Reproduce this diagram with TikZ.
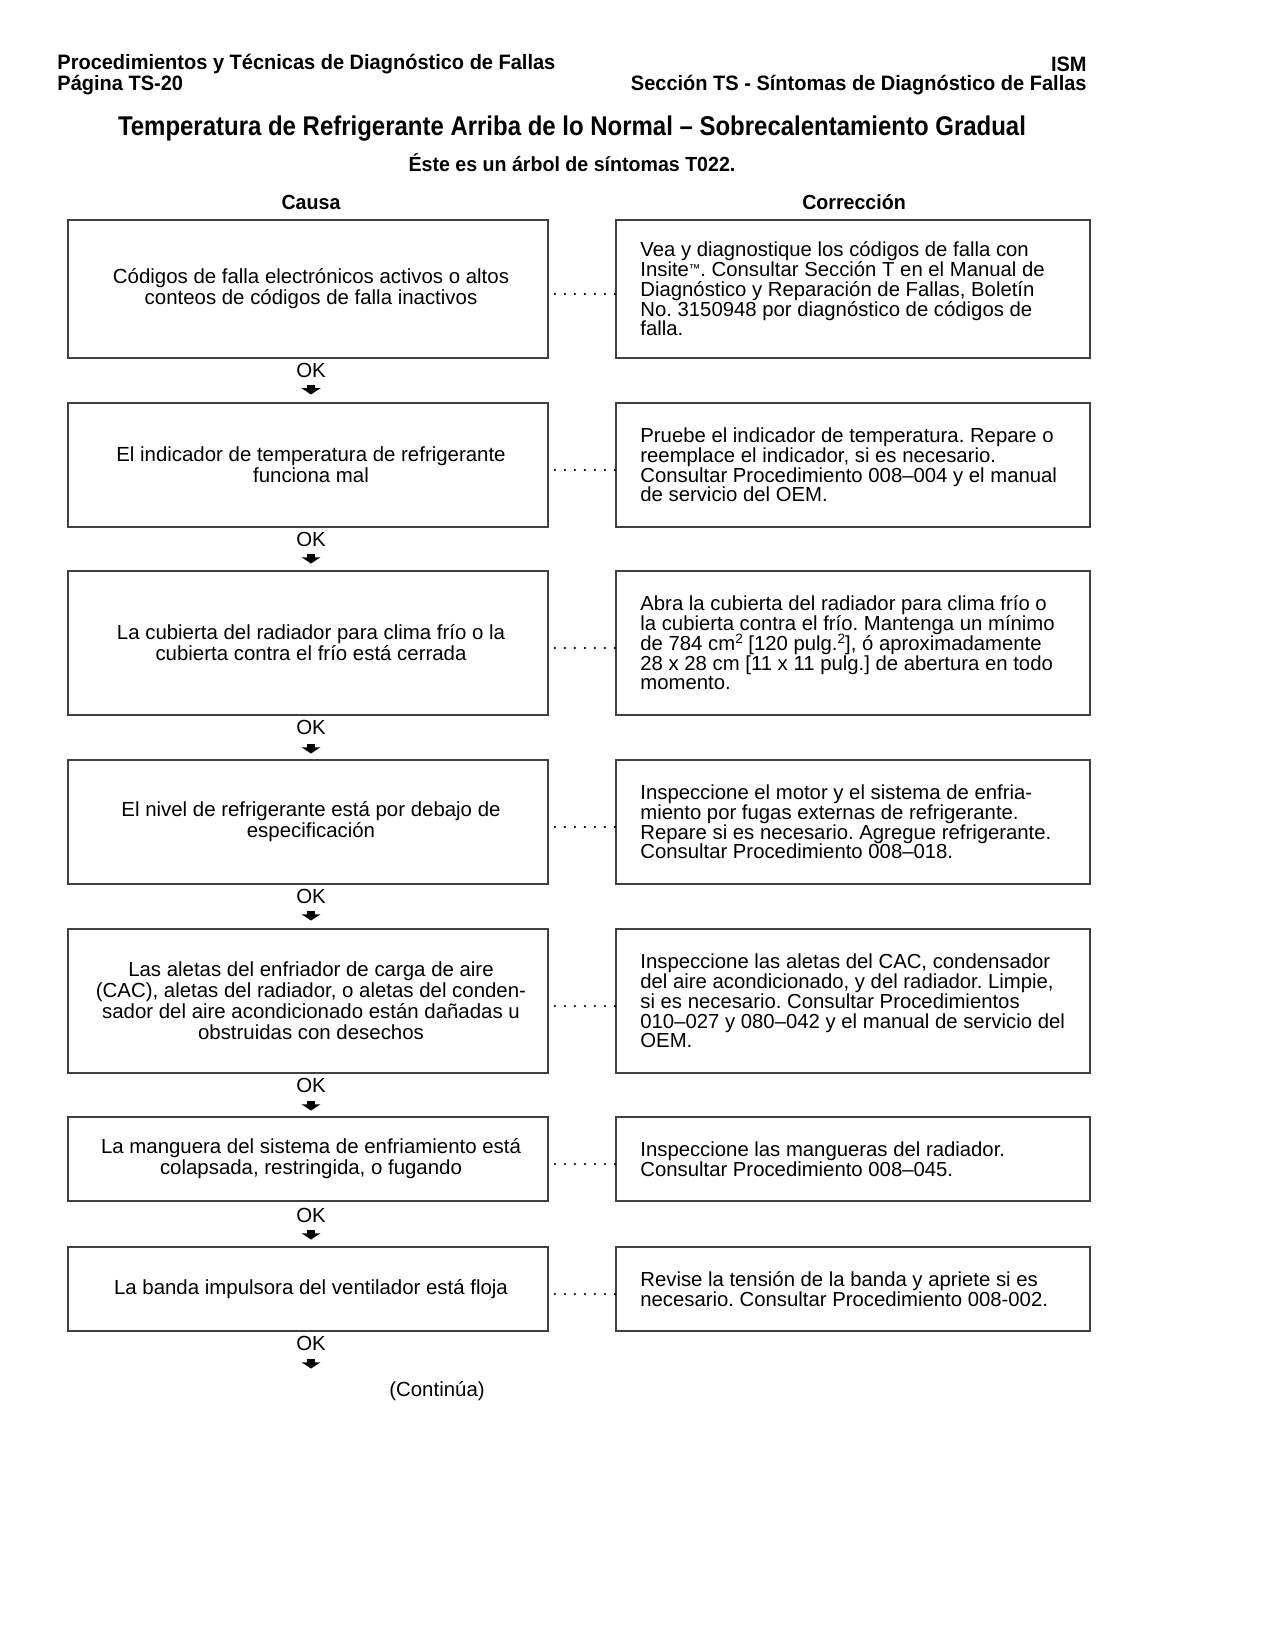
\documentclass[tikz,border=0pt]{standalone}
\usepackage{fontspec}
\setmainfont{Liberation Sans}
\newfontfamily\condb[FakeStretch=0.96]{Liberation Sans}
\newfontfamily\condt[FakeStretch=0.885]{Liberation Sans}
\usetikzlibrary{arrows.meta}
\lineskiplimit=-20pt
\frenchspacing
\newcommand\tmark{\raisebox{0.35ex}{\fontsize{5.5}{5.5}\selectfont\texttrademark}}
\newcommand\sqr{\smash{\raisebox{0.62ex}{\fontsize{6.5}{6.5}\selectfont 2}}}
\tikzset{
  causebox/.style={draw=black!75, line width=0.6pt, minimum width=230.4pt, inner sep=0pt},
  causetext/.style={align=center, font=\fontsize{9.8}{10.1}\selectfont, inner sep=0pt},
  fixbox/.style={draw=black!75, line width=0.6pt, minimum width=227.5pt, inner sep=0pt},
  fixtext/.style={anchor=west, align=left, font=\fontsize{9.75}{9.5}\selectfont, inner sep=0pt},
  dotline/.style={line width=1.1pt, dash pattern=on 0pt off 4.8pt, line cap=round, shorten <=3pt},
  oklabel/.style={font=\fontsize{9.8}{10}\selectfont, inner sep=0pt},
  okarrow/.style={line width=4pt, -{Triangle[width=9pt,length=3pt]}},
  head/.style={font=\condb\bfseries\fontsize{10}{12}\selectfont, inner sep=0pt},
}
\newcommand\pairrow[5]{%
  \node[causebox, minimum height={#3*0.48pt}] (c#1) at (308,#2) {};
  \node[causetext] (ct#1) at (311,#2) {#4};
  \node[fixbox, minimum height={#3*0.48pt}] (f#1) at (853,#2) {};
  \node[fixtext] (t#1) at ([xshift=11.8pt]f#1.west) {#5};
  \draw[dotline] ([yshift=-2.4pt]c#1.east) -- ([yshift=-2.4pt]f#1.west);
}
\newcommand\okstep[3]{%
  \node[oklabel] (ok#1) at (311,#2) {OK};
  \coordinate (a#1) at (311,#3-5);
  \coordinate (b#1) at (311,#3+4.5);
  \draw[okarrow] (a#1) -- (b#1);
}
\begin{document}
\begin{tikzpicture}[x=0.48pt, y=-0.48pt]
\useasboundingbox (0,0) rectangle (1275,1650);
% header
\node[head, anchor=west] (h1) at (57,64) {Procedimientos y Técnicas de Diagnóstico de Fallas};
\node[head, anchor=west] (h2) at (57,85) {Página TS-20};
\node[head, anchor=east] (h3) at (1087,64) {ISM};
\node[head, anchor=east] (h4) at (1087,85) {Sección TS - Síntomas de Diagnóstico de Fallas};
\node[head, font=\condt\bfseries\fontsize{13}{15}\selectfont] (title) at (572,129) {Temperatura de Refrigerante Arriba de lo Normal – Sobrecalentamiento Gradual};
\node[head, font=\condb\bfseries\fontsize{9.8}{12}\selectfont] (sub) at (572,163) {Éste es un árbol de síntomas T022.};
\node[head, font=\condb\bfseries\fontsize{9.8}{12}\selectfont] (causa) at (311,202) {Causa};
\node[head, font=\condb\bfseries\fontsize{9.8}{12}\selectfont] (corr) at (854,202) {Corrección};
% rows
\pairrow{1}{289}{138}{Códigos de falla electrónicos activos o altos\\conteos de códigos de falla inactivos}{Vea y diagnostique los códigos de falla con\\Insite\tmark. Consultar Sección T en el Manual de\\Diagnóstico y Reparación de Fallas, Boletín\\No. 3150948 por diagnóstico de códigos de\\falla.}
\okstep{1}{370}{390}
\pairrow{2}{465}{124}{El indicador de temperatura de refrigerante\\funciona mal}{Pruebe el indicador de temperatura. Repare o\\reemplace el indicador, si es necesario.\\Consultar Procedimiento 008–004 y el manual\\de servicio del OEM.}
\okstep{2}{539}{559}
\pairrow{3}{643}{144}{La cubierta del radiador para clima frío o la\\cubierta contra el frío está cerrada}{Abra la cubierta del radiador para clima frío o\\la cubierta contra el frío. Mantenga un mínimo\\de 784 cm\sqr{} [120 pulg.\sqr], ó aproximadamente\\28 x 28 cm [11 x 11 pulg.] de abertura en todo\\momento.}
\okstep{3}{727}{749}
\pairrow{4}{822}{124}{El nivel de refrigerante está por debajo de\\especificación}{Inspeccione el motor y el sistema de enfria-\\miento por fugas externas de refrigerante.\\Repare si es necesario. Agregue refrigerante.\\Consultar Procedimiento 008–018.}
\okstep{4}{896}{916}
\pairrow{5}{1001}{144}{Las aletas del enfriador de carga de aire\\(CAC), aletas del radiador, o aletas del conden-\\sador del aire acondicionado están dañadas u\\obstruidas con desechos}{Inspeccione las aletas del CAC, condensador\\del aire acondicionado, y del radiador. Limpie,\\si es necesario. Consultar Procedimientos\\010–027 y 080–042 y el manual de servicio del\\OEM.}
\okstep{5}{1085}{1106}
\pairrow{6}{1159}{84}{La manguera del sistema de enfriamiento está\\colapsada, restringida, o fugando}{Inspeccione las mangueras del radiador.\\Consultar Procedimiento 008–045.}
\okstep{6}{1215}{1235}
\pairrow{7}{1289}{84}{La banda impulsora del ventilador está floja}{Revise la tensión de la banda y apriete si es\\necesario. Consultar Procedimiento 008-002.}
\okstep{7}{1343}{1364}
\node[oklabel] (cont) at (437,1391) {(Continúa)};
\end{tikzpicture}
\end{document}
